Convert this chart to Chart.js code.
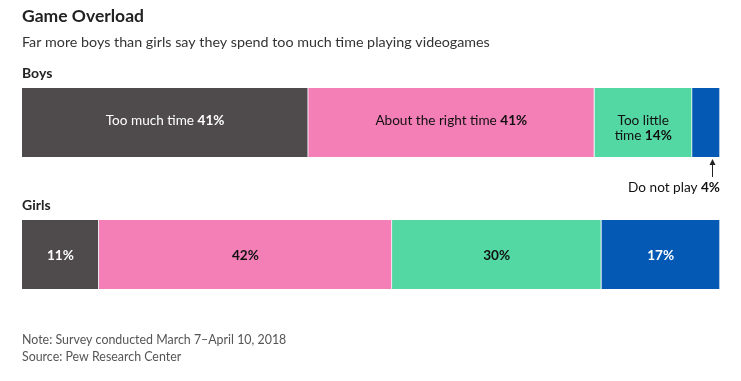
<!DOCTYPE html>
<html><head><meta charset="utf-8">
<script src="https://cdn.jsdelivr.net/npm/chart.js@4"></script>
<style>html,body{margin:0;padding:0;background:#fff;}#wrap{width:741px;height:381px;position:relative;}</style>
</head><body><div id="wrap"><canvas id="c" width="741" height="381"></canvas></div>
<script>
const categories = ['Boys', 'Girls'];
const responses = ['Too much time', 'About the right time', 'Too little time', 'Do not play'];
const boysValues = [41, 41, 14, 4];
const girlsValues = [11, 42, 30, 17];
const boysLabels = [['Too much time'], ['About the right time'], ['Too little', 'time'], null];
const colors = ['#4f4b4c', '#f47eb6', '#53d7a3', '#0459b5'];
const textColors = ['#ffffff', '#111111', '#111111', '#ffffff'];
const FONT = 'Lato, "Noto Sans", sans-serif';
const SEG = '13.6px ';

function drawMixed(ctx, parts, x, y, align, size) {
  size = size || SEG;
  let widths = parts.map(p => { ctx.font = (p[1] ? 'bold ' : '') + size + FONT; return ctx.measureText(p[0]).width; });
  let total = widths.reduce((a, b) => a + b, 0);
  let sx = align === 'center' ? x - total / 2 : (align === 'right' ? x - total : x);
  ctx.textAlign = 'left';
  parts.forEach((p, i) => { ctx.font = (p[1] ? 'bold ' : '') + size + FONT; ctx.fillText(p[0], sx, y); sx += widths[i]; });
}

const overlay = {
  id: 'overlay',
  afterDatasetsDraw(chart) {
    const ctx = chart.ctx;
    ctx.save();
    ctx.textBaseline = 'alphabetic';
    ctx.fillStyle = '#222';
    ctx.font = 'bold 17.5px ' + FONT;
    ctx.textAlign = 'left';
    ctx.fillText('Game Overload', 22, 22);
    ctx.fillStyle = '#333';
    ctx.font = '14.3px ' + FONT;
    ctx.fillText('Far more boys than girls say they spend too much time playing videogames', 22, 47);
    ctx.fillStyle = '#222';
    ctx.font = 'bold 14px ' + FONT;
    categories.forEach((cat, j) => {
      const el = chart.getDatasetMeta(0).data[j];
      ctx.fillText(cat, 22, el.y - el.height / 2 - 10);
    });
    responses.forEach((r, i) => {
      const meta = chart.getDatasetMeta(i);
      meta.data.forEach((el, j) => {
        const cx = (el.x + el.base) / 2;
        const val = (j === 0 ? boysValues : girlsValues)[i];
        ctx.fillStyle = textColors[i];
        if (j === 0) {
          const lbl = boysLabels[i];
          if (!lbl) return;
          if (lbl.length === 1) {
            drawMixed(ctx, [[lbl[0] + ' ', false], [val + '%', true]], cx, el.y + 2, 'center');
          } else {
            drawMixed(ctx, [[lbl[0], false]], cx, el.y + 2, 'center');
            drawMixed(ctx, [[lbl[1] + ' ', false], [val + '%', true]], cx, el.y + 17.5, 'center');
          }
        } else {
          drawMixed(ctx, [[val + '%', true]], cx, el.y + 5, 'center');
        }
      });
    });
    const el = chart.getDatasetMeta(3).data[0];
    const ax = Math.round(el.x - 8) + 0.5;
    const top = el.y + el.height / 2 + 2;
    ctx.strokeStyle = '#222';
    ctx.fillStyle = '#222';
    ctx.lineWidth = 1;
    ctx.beginPath(); ctx.moveTo(ax, top + 18); ctx.lineTo(ax, top + 3); ctx.stroke();
    ctx.beginPath(); ctx.moveTo(ax, top); ctx.lineTo(ax - 3, top + 6); ctx.lineTo(ax + 3, top + 6); ctx.closePath(); ctx.fill();
    ctx.fillStyle = '#111';
    drawMixed(ctx, [['Do not play ', false], [boysValues[3] + '%', true]], chart.chartArea.right, 192, 'right');
    ctx.fillStyle = '#555';
    ctx.font = '12.4px ' + FONT;
    ctx.textAlign = 'left';
    ctx.fillText('Note: Survey conducted March 7\u2013April 10, 2018', 22, 344);
    ctx.fillText('Source: Pew Research Center', 22, 361);
    ctx.restore();
  }
};

new Chart(document.getElementById('c'), {
  type: 'bar',
  data: {
    labels: categories,
    datasets: responses.map((r, i) => ({
      label: r,
      data: [boysValues[i], girlsValues[i]],
      backgroundColor: colors[i],
      borderColor: '#ffffff',
      borderWidth: { top: 0, bottom: 0, left: 0, right: 1 },
      borderSkipped: false,
      barThickness: 69
    }))
  },
  options: {
    indexAxis: 'y',
    responsive: false,
    animation: false,
    events: [],
    layout: { padding: { left: 22, right: 21, top: 56.5, bottom: 60.5 } },
    scales: {
      x: { stacked: true, min: 0, max: 100, display: false },
      y: { stacked: true, display: false, offset: true }
    },
    plugins: { legend: { display: false }, tooltip: { enabled: false }, title: { display: false } }
  },
  plugins: [overlay]
});
</script></body></html>
